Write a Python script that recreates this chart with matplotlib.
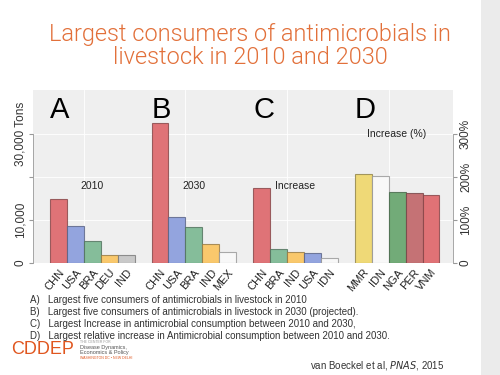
import matplotlib
matplotlib.use("Agg")
import matplotlib.pyplot as plt
from matplotlib.patches import Rectangle

plt.rcParams['font.family'] = ['Liberation Sans', 'DejaVu Sans']

# panel data (tons, except D in percent)
countries_a = ["CHN", "USA", "BRA", "DEU", "IND"]
tons_2010 = [14900, 8600, 5200, 1900, 1900]
countries_b = ["CHN", "USA", "BRA", "IND", "MEX"]
tons_2030 = [32500, 10800, 8300, 4500, 2500]
countries_c = ["CHN", "BRA", "IND", "USA", "IDN"]
tons_increase = [17400, 3200, 2600, 2250, 1200]
countries_d = ["MMR", "IDN", "NGA", "PER", "VNM"]
pct_increase = [206, 202, 164, 162, 158]

RED, BLUE, GREEN, ORANGE = "#df7377", "#93a4de", "#85bd9a", "#f9c86c"
GREY, WHITE = "#c9c9c9", "#f8f8f8"
colors_a = [RED, BLUE, GREEN, ORANGE, GREY]
colors_b = [RED, BLUE, GREEN, ORANGE, WHITE]
colors_c = [RED, GREEN, ORANGE, BLUE, WHITE]
colors_d = ["#efd977", WHITE, "#72ab78", "#c57275", "#e07276"]


def darker(cols):
    out = [matplotlib.colors.to_rgba(c) for c in cols]
    return [(r * 0.6, g * 0.6, b * 0.6, 0.8) for r, g, b, _ in out]


fig = plt.figure(figsize=(5, 3.75), dpi=100)
fig.patch.set_facecolor("white")
fig.add_artist(Rectangle((0.962, 0), 0.038, 1, transform=fig.transFigure,
                         facecolor="#ebebeb", edgecolor="none", zorder=0))

fig.text(0.5, 1 - 46 / 375, "Largest consumers of antimicrobials in\nlivestock in 2010 and 2030",
         ha="center", va="center", fontsize=17, color="#e2703a",
         family=["Roboto", "DejaVu Sans"], fontweight=300, linespacing=1.05)

ax = fig.add_axes([0.066, 0.2987, 0.84, 0.4613])
ax.set_facecolor("#efefef")

groups = [(0, countries_a, tons_2010, colors_a),
          (6, countries_b, tons_2030, colors_b),
          (12, countries_c, tons_increase, colors_c)]
xticks, xlabels = [], []
for start, names, vals, cols in groups:
    xs = [start + i for i in range(len(names))]
    ax.bar(xs, vals, width=1, color=cols, edgecolor=darker(cols), linewidth=0.8, zorder=3)
    xticks += xs
    xlabels += names

xs_d = [18 + i for i in range(len(countries_d))]
xticks += xs_d
xlabels += countries_d

ax.set_xlim(-1.5, 23.3)
ax.set_ylim(0, 40200)
ax.set_yticks([0, 10000, 20000, 30000])
ax.set_yticklabels(["0", "10,000", "", "30,000 Tons"], rotation=90, va="center",
                   fontsize=8.5, color="#333333")
ax.set_xticks(xticks)
ax.set_xticklabels(xlabels, rotation=50, ha="right", rotation_mode="anchor",
                   fontsize=8, color="#222222")
ax.tick_params(axis="x", length=0, pad=3)
ax.tick_params(axis="y", length=3, color="#999999", pad=2)
for s in ["top", "right", "bottom"]:
    ax.spines[s].set_visible(False)
ax.spines["left"].set_color("#999999")
ax.spines["left"].set_linewidth(0.6)
ax.spines["left"].set_bounds(0, 30000)
for gx in [2, 8, 14, 20]:
    ax.axvline(gx - 0.5, color="white", lw=0.6, zorder=1)
for gy in [10000, 20000, 30000]:
    ax.axhline(gy, color="white", lw=0.6, zorder=1)

ax2 = ax.twinx()
ax2.set_ylim(0, 402)
ax2.bar(xs_d, pct_increase, width=1, color=colors_d, edgecolor=darker(colors_d),
        linewidth=0.8, zorder=3)
ax2.set_yticks([0, 100, 200, 300])
ax2.set_yticklabels(["0", "100%", "200%", "300%"], rotation=90, va="center",
                    fontsize=8.5, color="#333333")
ax2.tick_params(axis="y", length=3, color="#999999", pad=2)
for s in ["top", "left", "bottom"]:
    ax2.spines[s].set_visible(False)
ax2.spines["right"].set_color("#999999")
ax2.spines["right"].set_linewidth(0.6)
ax2.spines["right"].set_bounds(0, 300)

for x0, letter in zip([-0.5, 5.5, 11.5, 17.5], "ABCD"):
    ax.text(x0, 0.838, letter, transform=ax.get_xaxis_transform(), fontsize=21,
            ha="left", va="baseline", color="black")
for xc, y, lab in [(2, 0.445, "2010"), (8, 0.445, "2030"), (14, 0.445, "Increase"),
                   (20, 0.745, "Increase (%)")]:
    ax.text(xc, y, lab, transform=ax.get_xaxis_transform(), fontsize=7.5,
            ha="center", va="center", color="#222222")

notes = ["A)   Largest five consumers of antimicrobials in livestock in 2010",
         "B)   Largest five consumers of antimicrobials in livestock in 2030 (projected).",
         "C)   Largest Increase in antimicrobial consumption between 2010 and 2030,",
         "D)   Largest relative increase in Antimicrobial consumption between 2010 and 2030."]
for i, line in enumerate(notes):
    fig.text(0.06, 1 - (300 + 12 * i) / 375, line, fontsize=7, color="#333333",
             va="center", ha="left")

fig.text(0.022, 1 - 350 / 375, "CDDEP", fontsize=13, color="#e0561f",
         va="center", ha="left")
fig.text(0.16, 1 - 342 / 375, "THE CENTER FOR", fontsize=2.5, color="#999999", va="center")
fig.text(0.16, 1 - 347 / 375, "Disease Dynamics,", fontsize=4, color="#555555", va="center")
fig.text(0.16, 1 - 352.5 / 375, "Economics & Policy", fontsize=4, color="#555555", va="center")
fig.text(0.16, 1 - 358 / 375, "WASHINGTON DC \u2022 NEW DELHI", fontsize=2.5, color="#e0561f", va="center")

fig.text(0.62, 1 - 366 / 375, "van Boeckel et al, $\\it{PNAS}$, 2015", fontsize=7,
         color="#333333", va="center", ha="left")

fig.savefig("out.png", dpi=100)
